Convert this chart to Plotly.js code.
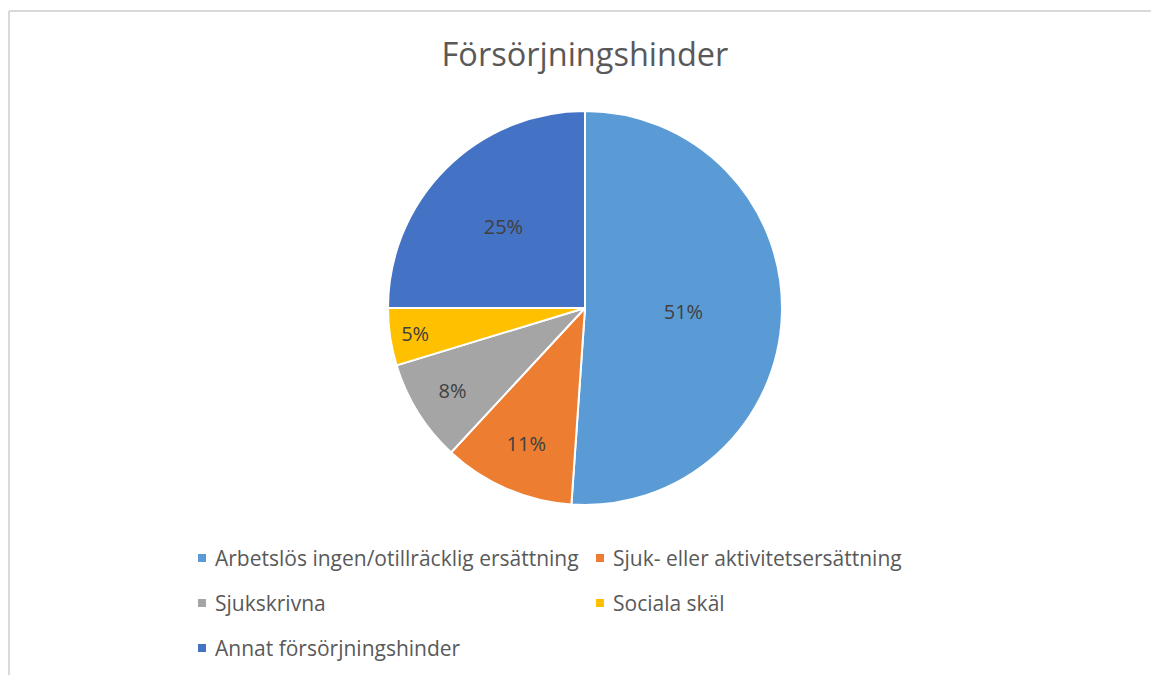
<!DOCTYPE html>
<html>
<head>
<meta charset="utf-8">
<script src="https://cdn.plot.ly/plotly-3.0.1.min.js"></script>
<style>
html,body{margin:0;padding:0;background:#fff;}
#chart{width:1151px;height:675px;}
</style>
</head>
<body>
<div id="chart"></div>
<script>
const categories = [
  "Arbetslös ingen/otillräcklig ersättning",
  "Sjuk- eller aktivitetsersättning",
  "Sjukskrivna",
  "Sociala skäl",
  "Annat försörjningshinder"
];
const values = [51.1, 10.8, 8.4, 4.7, 25.0];
const colors = ["#5B9BD5", "#ED7D31", "#A5A5A5", "#FFC000", "#4472C4"];
const chartTitle = "Försörjningshinder";

const W = 1151, H = 675;
const cx = 585, cy = 308, R = 197;
const FONT = "Open Sans, Noto Sans, sans-serif";

const trace = {
  type: "pie",
  labels: categories,
  values: values,
  sort: false,
  direction: "clockwise",
  rotation: 0,
  marker: {colors: colors, line: {color: "#ffffff", width: 2}},
  textinfo: "percent",
  texttemplate: "%{percent:.0%}",
  textposition: "inside",
  insidetextorientation: "horizontal",
  textfont: {family: FONT, size: 20, color: "#404040"},
  hoverinfo: "label+percent",
  showlegend: false,
  domain: {
    x: [(cx - R) / W, (cx + R) / W],
    y: [(H - cy - R) / H, (H - cy + R) / H]
  }
};

// custom legend (two columns) built from categories/colors
const shapes = [
  {type: "line", xref: "paper", yref: "paper", x0: 9 / W, x1: 1, y0: 1 - 11 / H, y1: 1 - 11 / H, line: {color: "#d9d9d9", width: 2}},
  {type: "line", xref: "paper", yref: "paper", x0: 9 / W, x1: 9 / W, y0: 0, y1: 1 - 11 / H, line: {color: "#d9d9d9", width: 2}}
];
const annotations = [];
const colX = [198, 596];
const rowY = [558, 603, 648];
categories.forEach((c, i) => {
  const col = i % 2, row = Math.floor(i / 2);
  const x = colX[col], y = rowY[row];
  shapes.push({type: "rect", xref: "paper", yref: "paper",
    x0: x / W, x1: (x + 8) / W, y0: 1 - (y + 4) / H, y1: 1 - (y - 4) / H,
    fillcolor: colors[i], line: {width: 0}});
  annotations.push({xref: "paper", yref: "paper", x: (x + 15) / W, y: 1 - y / H,
    xanchor: "left", yanchor: "middle", showarrow: false, text: c,
    font: {family: FONT, size: 21, color: "#595959"}});
});

const layout = {
  width: W, height: H,
  margin: {l: 0, r: 0, t: 0, b: 0},
  paper_bgcolor: "#ffffff",
  title: {text: chartTitle, x: cx / W, xanchor: "center", y: 1 - 55 / H, yanchor: "middle",
    font: {family: FONT, size: 32.5, color: "#595959"}},
  showlegend: false,
  shapes: shapes,
  annotations: annotations
};

Plotly.newPlot("chart", [trace], layout, {displayModeBar: false, staticPlot: true});
</script>
</body>
</html>
